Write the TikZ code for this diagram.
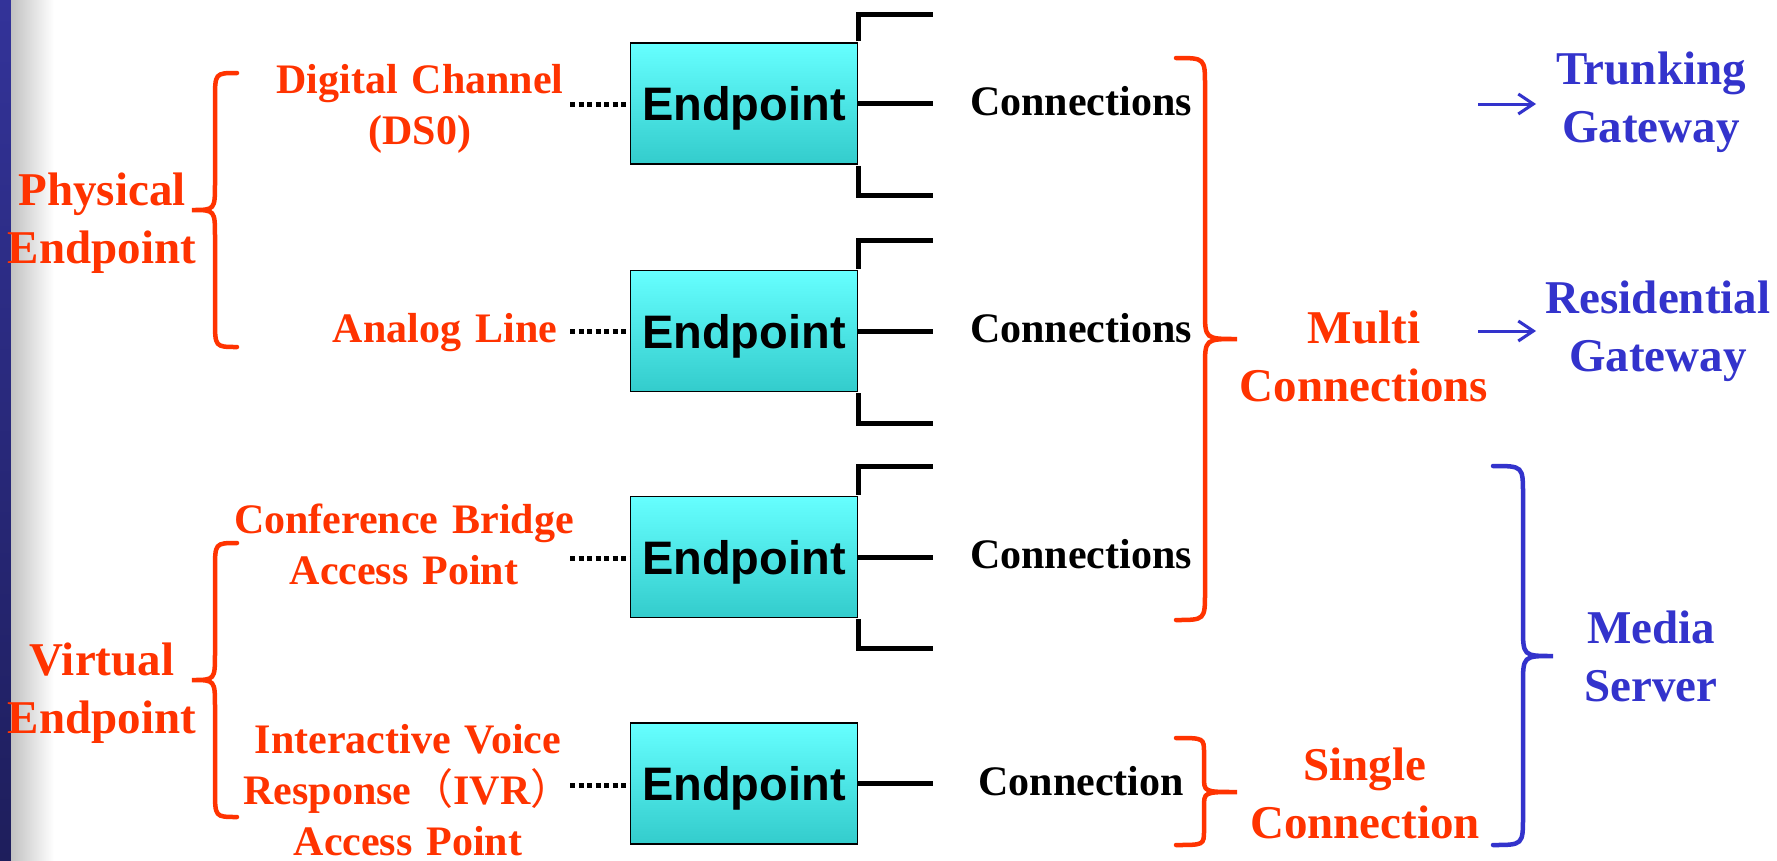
\documentclass[tikz,border=0pt]{standalone}
\usepackage{fontspec}
\setmainfont{Liberation Serif}
\newfontfamily\boxfont{Liberation Sans}
\newfontfamily\cjk{Noto Sans CJK SC}
\usetikzlibrary{arrows.meta}

\definecolor{labred}{RGB}{255,51,0}
\definecolor{labblue}{RGB}{51,51,204}
\definecolor{cyantop}{RGB}{102,255,255}
\definecolor{cyanbot}{RGB}{51,204,204}
\definecolor{stripTop}{RGB}{51,51,153}
\definecolor{stripBot}{RGB}{30,30,92}

\tikzset{
  epbox/.style={draw=black, line width=1.5pt, top color=cyantop, bottom color=cyanbot,
    minimum width=227pt, minimum height=121pt, inner sep=0pt,
    text height=34pt, text depth=0pt,
    font=\boxfont\bfseries\fontsize{47}{56}\selectfont},
  sublabel/.style={text=labred, anchor=base, text width=420pt, align=center, inner sep=0pt,
    font=\bfseries\fontsize{42}{51}\selectfont},
  biglabel/.style={anchor=base, text width=320pt, align=center, inner sep=0pt,
    font=\bfseries\fontsize{47}{58}\selectfont},
  connlabel/.style={anchor=base, inner sep=0pt, font=\bfseries\fontsize{42}{50}\selectfont},
  connline/.style={line width=5pt, line join=miter},
  dotline/.style={line width=5pt, dash pattern=on 5pt off 3.5pt},
  curlyline/.style={line width=4.5pt, line cap=round},
  gwarrow/.style={labblue, line width=3pt, -{Straight Barb[length=15pt,width=20pt]}}
}

% curly brace: colour, end x, spine x, tip x, top y, tip y, bottom y, bend size
\newcommand{\drawcurly}[8]{%
  \draw[curlyline,#1] (#2,#5) .. controls (#3,#5) .. (#3,#5+#8)
    -- (#3,#6-#8) .. controls (#3,#6) .. (#4,#6)
    .. controls (#3,#6) .. (#3,#6+#8)
    -- (#3,#7-#8) .. controls (#3,#7) .. (#2,#7);}

\begin{document}
\begin{tikzpicture}[x=1pt,y=-1pt]
  \useasboundingbox (0,0) rectangle (1777,860);
  \fill[white] (0,0) rectangle (1777,860);

  % slide edge strip
  \shade[top color=stripTop, bottom color=stripBot] (0,0) rectangle (11,860);
  \shade[left color=black!24, right color=white] (11,0) rectangle (54,860);

  % connection rails (drawn first, boxes sit on top)
  \coordinate (rail) at (933,0);
  \coordinate (b1t) at (933,14);   \coordinate (b1b) at (933,195);
  \coordinate (b2t) at (933,240);  \coordinate (b2b) at (933,423);
  \coordinate (b3t) at (933,466);  \coordinate (b3b) at (933,648);

  % endpoint boxes
  \node[epbox] (b1) at (744,103.5) {Endpoint};
  \node[epbox] (b2) at (744,331) {Endpoint};
  \node[epbox] (b3) at (744,557) {Endpoint};
  \node[epbox] (b4) at (744,783.5) {Endpoint};

  \foreach \b in {b1,b2,b3}{
    \draw[connline] ([yshift=1pt]\b.north east) |- (\b t);
    \draw[connline] ([yshift=-1pt]\b.south east) |- (\b b);
    \draw[connline] (\b.east) -- (\b.east -| rail);
  }
  \draw[connline] (b4.east) -- (b4.east -| rail);

  % endpoint kinds
  \node[sublabel] (ds0) at (420,93) {\fontsize{42}{54}\selectfont Digital Channel\\(DS0)};
  \node[sublabel] (analog) at (445,342) {Analog Line};
  \node[sublabel] (conf) at (404,533) {\fontsize{42}{50}\selectfont Conference Bridge\\Access Point};
  \node[sublabel] (ivr) at (408,753) {\fontsize{42}{51}\selectfont Interactive Voice\\Response{\cjk\mdseries （}IVR{\cjk\mdseries ）}\\Access Point};

  \coordinate (d1) at (570,104);
  \coordinate (d2) at (570,331);
  \coordinate (d3) at (570,558);
  \coordinate (d4) at (570,785);
  \draw[dotline] (d1) -- (b1.west |- d1);
  \draw[dotline] (d2) -- (b2.west |- d2);
  \draw[dotline] (d3) -- (b3.west |- d3);
  \draw[dotline] (d4) -- (b4.west |- d4);

  % left groups
  \node[biglabel, text=labred] (phys) at (102,205) {Physical\\Endpoint};
  \node[biglabel, text=labred] (virt) at (102,675) {Virtual\\Endpoint};
  \drawcurly{labred}{237}{215}{192}{73}{210}{347}{27}
  \drawcurly{labred}{237}{215}{192}{543}{680}{817}{27}

  % connection labels
  \node[connlabel] (c1) at (1081,115) {Connections};
  \node[connlabel] (c2) at (1081,342) {Connections};
  \node[connlabel] (c3) at (1081,568) {Connections};
  \node[connlabel] (c4) at (1081,795) {Connection};

  % right groups
  \drawcurly{labred}{1176}{1205}{1237}{58}{339}{620}{28}
  \drawcurly{labred}{1176}{1204}{1237}{738}{792}{845}{15}
  \drawcurly{labblue}{1493}{1523}{1553}{466}{656}{845}{29}

  \node[biglabel, text=labred] (multi) at (1364,343) {Multi\\Connections};
  \node[biglabel, text=labred] (single) at (1365,780) {Single\\Connection};

  \node[biglabel, text=labblue] (trunk) at (1651,84) {Trunking\\Gateway};
  \node[biglabel, text=labblue] (resid) at (1658,313) {Residential\\Gateway};
  \node[biglabel, text=labblue] (media) at (1651,643) {Media\\Server};

  \coordinate (ta) at (1478,104);  \coordinate (tb) at (1536,104);
  \coordinate (ra) at (1478,331);  \coordinate (rb) at (1536,331);
  \draw[gwarrow] (ta) -- (tb);
  \draw[gwarrow] (ra) -- (rb);
\end{tikzpicture}
\end{document}
